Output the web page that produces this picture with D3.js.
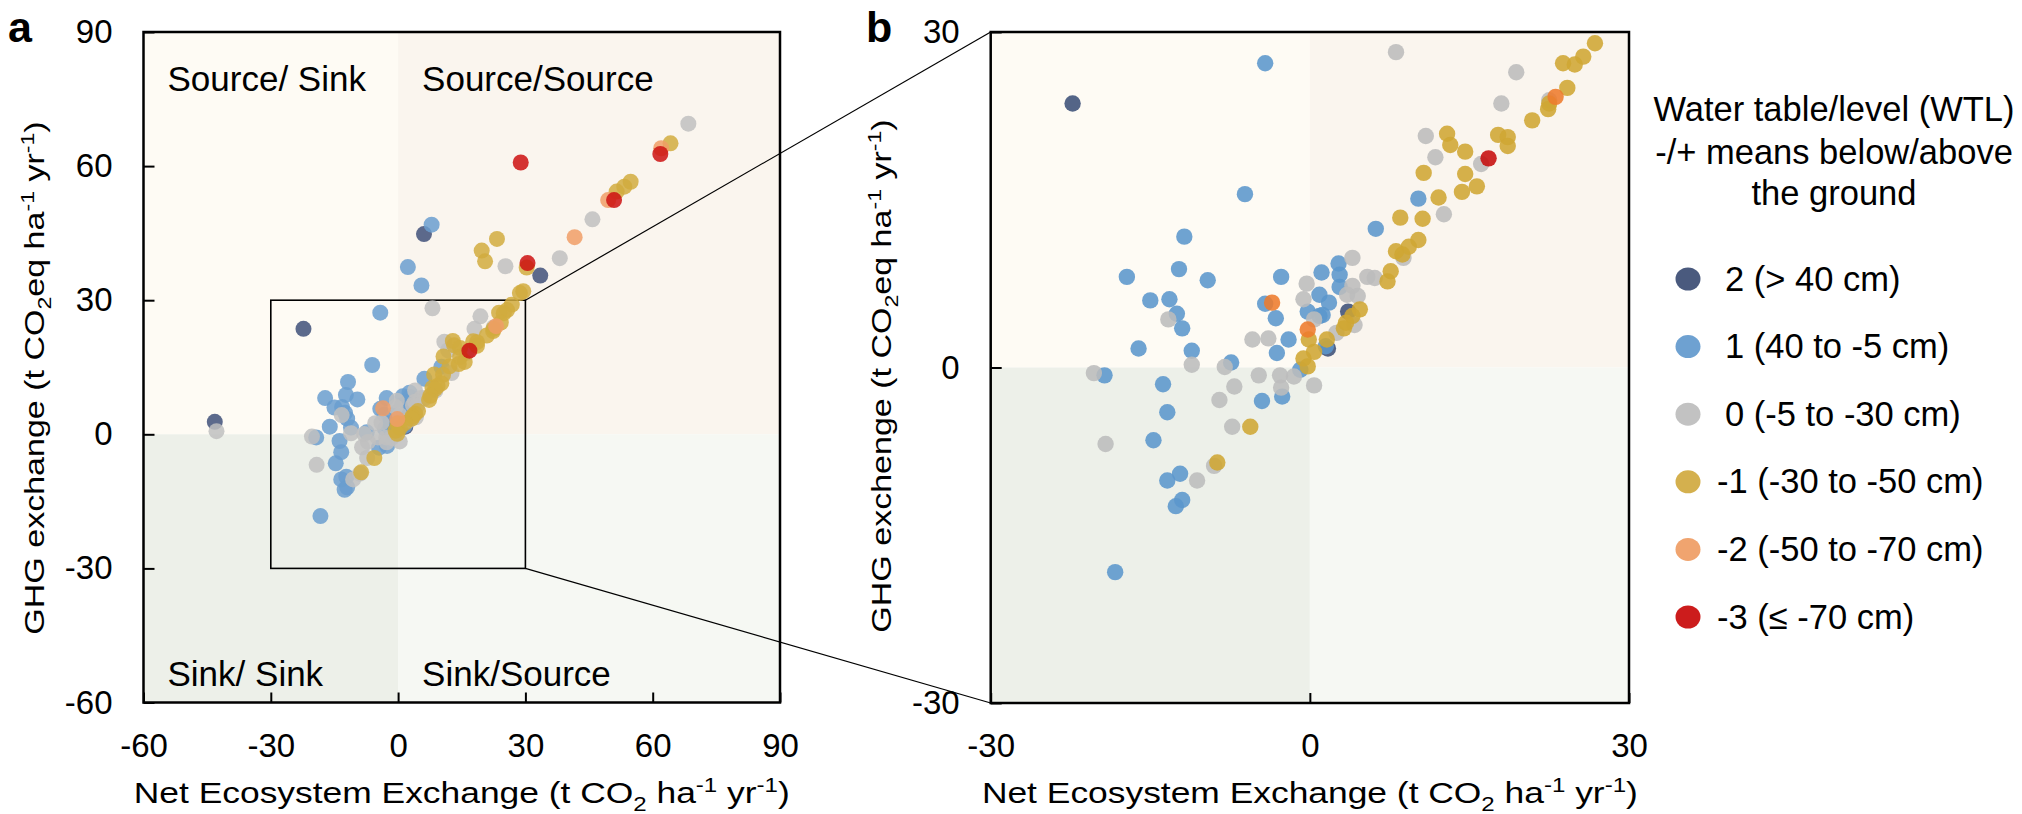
<!DOCTYPE html>
<html><head><meta charset="utf-8">
<script src="https://cdn.jsdelivr.net/npm/d3@7"></script>
<style>
body{margin:0;background:#fff;}
svg{display:block;}
text{font-family:"Liberation Sans",Arial,Helvetica,sans-serif;fill:#000;}
</style>
</head><body>
<svg id="chart" width="2022" height="814"></svg>
<script>
// ---------- data ----------
const classes = ["2", "1", "0", "-1", "-2", "-3"];
const legendLabels = ["2 (> 40 cm)", "1 (40 to -5 cm)", "0 (-5 to -30 cm)", "-1 (-30 to -50 cm)", "-2 (-50 to -70 cm)", "-3 (\u2264 -70 cm)"];
const legendTitle = ["Water table/level (WTL)", "-/+ means below/above", "the ground"];
const quadrantLabels = ["Source/ Sink", "Source/Source", "Sink/ Sink", "Sink/Source"];
const ticksA = [-60, -30, 0, 30, 60, 90];
const ticksB = [-30, 0, 30];

// [NEE, GHG] pairs per water-table class
const wtl2 = [[-22.3,23.6],[3.6,5.0],[1.7,1.7],[6.1,44.8],[33.5,35.5],[-43.2,2.8]];
const wtl1 = [[-4.2,27.2],[10.2,15.1],[6.2,12.4],[2.7,9.3],[1.1,8.5],[2.8,8.3],[-2.7,8.1],[2.8,7.2],
  [0.9,6.5],[1.8,5.8],[-4.2,5.7],[-0.2,5.0],[0.9,4.6],[1.2,4.7],[-3.2,4.4],[-2.0,2.5],[1.5,1.9],
  [-3.1,1.3],[-0.9,-0.2],[-7.4,0.45],[-4.5,-3.0],[-2.6,-2.6],[-11.1,1.5],[-16.1,1.7],[-12.0,3.5],
  [-12.5,4.8],[-13.2,6.1],[-15.0,6.0],[-17.2,8.1],[-12.3,8.8],[-9.6,7.8],[-11.8,11.7],[-6.1,15.5],
  [-19.3,-0.7],[-13.8,-1.5],[-13.4,-4.0],[-14.7,-6.5],[-12.2,-9.5],[-13.4,-10.1],[-12.0,-11.85],
  [-12.6,-12.4],[-18.3,-18.3],[7.9,46.9],[2.3,37.4],[5.5,33.3]];
const wtl0 = [[8.1,28.2],[19.4,26.4],[18.0,23.6],[22.5,23.9],[16.1,18.2],[10.9,20.7],[11.8,18.8],[12.6,13.7],
  [8.8,9.8],[4.0,9.8],[5.4,8.1],[6.1,8.0],[-0.3,7.5],[4.0,7.3],[3.5,6.5],[4.5,6.4],[-0.6,6.1],
  [0.4,4.3],[4.2,3.8],[2.5,3.1],[-5.4,2.5],[-3.9,2.6],[-1.5,-0.8],[0.4,-1.6],[-2.8,-0.7],[-4.8,-0.7],
  [-7.1,-1.7],[-2.7,-1.8],[-8.0,0.05],[-8.5,-2.9],[-11.1,0.24],[-13.3,4.3],[-20.3,-0.5],[-7.3,-5.3],
  [-19.2,-6.84],[-9.0,-8.8],[-10.6,-10.1],[68.4,69.5],[45.8,48.1],[38.1,39.4],[25.3,37.6],[-42.8,0.7]];
const wtlm1 = [[26.8,29.0],[25.7,27.8],[24.9,27.1],[23.8,27.2],[24.2,25.0],[22.5,23.6],[22.4,23.1],[20.9,22.1],
  [17.7,20.8],[18.6,20.6],[18.6,19.8],[12.9,20.9],[13.2,19.9],[14.6,19.3],[10.7,17.4],[14.6,17.3],
  [15.7,16.2],[14.3,15.7],[12.1,15.2],[8.5,13.4],[10.6,13.3],[10.2,11.4],[9.3,10.8],[8.1,10.4],
  [8.7,10.1],[7.6,8.6],[7.3,7.7],[4.7,5.2],[4.0,4.6],[3.4,4.0],[3.2,3.5],[1.6,2.5],[-0.1,2.5],
  [0.4,1.4],[-0.6,0.8],[-0.2,0.1],[-5.6,-5.3],[-8.7,-8.5],[64.2,65.1],[54.8,56.5],[53.3,55.4],
  [51.5,54.3],[23.3,43.7],[19.7,41.1],[20.5,38.7],[30.3,37.3],[29.5,32.0],[28.7,31.6]];
const wtlm2 = [[23.1,24.2],[-3.55,5.8],[-0.2,3.4],[62.0,64.0],[49.5,52.4],[41.6,44.1]];
const wtlm3 = [[16.8,18.7],[61.8,62.7],[28.9,60.8],[50.9,52.4],[30.5,38.3]];

const series = [wtl2, wtl1, wtl0, wtlm1, wtlm2, wtlm3];

// ---------- styles ----------
const FONT = '"Liberation Sans",Arial,Helvetica,sans-serif';
const colA = ["#3f5079", "#6a9dcf", "#bfbfbf", "#d1ab3e", "#f09e66", "#cc1111"];
const colB = ["#3c5078", "#5b96cc", "#bcbcbc", "#cfa633", "#ee7b2c", "#c60c0c"];
const colL = ["#4a5a7e", "#6ea1d1", "#c2c2c2", "#d4b04e", "#f0a46f", "#cc1c1c"];
const quadFill = {tl: "#fefbf4", tr: "#faf5ee", bl: "#edf0e9", br: "#f6f8f3"};

const svg = d3.select("#chart");
svg.append("rect").attr("width", 2022).attr("height", 814).attr("fill", "#fff");

const points = [];
series.forEach((s, i) => s.forEach(p => points.push({x: p[0], y: p[1], c: i})));

function drawPanel(opt) {
  const x = d3.scaleLinear().domain(opt.domain).range([opt.x0, opt.x1]);
  const y = d3.scaleLinear().domain(opt.domain).range([opt.y1, opt.y0]);
  const g = svg.append("g");
  const [d0, d1] = opt.domain;
  const quads = [
    {k: "tl", xa: d0, xb: 0, ya: 0, yb: d1},
    {k: "tr", xa: 0, xb: d1, ya: 0, yb: d1},
    {k: "bl", xa: d0, xb: 0, ya: d0, yb: 0},
    {k: "br", xa: 0, xb: d1, ya: d0, yb: 0}];
  g.selectAll("rect.q").data(quads).join("rect")
    .attr("x", d => x(d.xa)).attr("y", d => y(d.yb))
    .attr("width", d => x(d.xb) - x(d.xa)).attr("height", d => y(d.ya) - y(d.yb))
    .attr("fill", d => quadFill[d.k]);
  return {x, y, g};
}

// ---------- panel a ----------
const A = drawPanel({domain: [-60, 90], x0: 143.5, x1: 780, y0: 32, y1: 702.5});
const qPos = [[-60, 1], [0, 1], [-60, 0], [0, 0]];
A.g.selectAll("text.ql").data(quadrantLabels).join("text")
  .attr("x", (d, i) => A.x(qPos[i][0]) + 24)
  .attr("y", (d, i) => qPos[i][1] ? 91 : 686)
  .attr("font-size", 35).text(d => d);
A.g.append("rect").attr("x", A.x(-30)).attr("y", A.y(30))
  .attr("width", A.x(30) - A.x(-30)).attr("height", A.y(-30) - A.y(30))
  .attr("fill", "none").attr("stroke", "#000").attr("stroke-width", 1.6);
A.g.selectAll("circle").data(points).join("circle")
  .attr("cx", d => A.x(d.x)).attr("cy", d => A.y(d.y)).attr("r", 8)
  .attr("fill", d => colA[d.c]).attr("fill-opacity", 0.85);

// ---------- panel b ----------
const B = drawPanel({domain: [-30, 30], x0: 990.7, x1: 1629, y0: 32, y1: 703});
B.g.selectAll("circle").data(points.filter(d => d.x >= -30 && d.x <= 30 && d.y >= -30 && d.y <= 30)).join("circle")
  .attr("cx", d => B.x(d.x)).attr("cy", d => B.y(d.y)).attr("r", 8.2)
  .attr("fill", d => colB[d.c]).attr("fill-opacity", 0.88);

// connector lines
svg.append("line").attr("x1", A.x(30)).attr("y1", A.y(30)).attr("x2", B.x(-30)).attr("y2", B.y(30))
  .attr("stroke", "#000").attr("stroke-width", 1.2);
svg.append("line").attr("x1", A.x(30)).attr("y1", A.y(-30)).attr("x2", B.x(-30)).attr("y2", B.y(-30))
  .attr("stroke", "#000").attr("stroke-width", 1.2);

// borders + axes
function axes(P, ticks) {
  const [r0, r1] = P.x.range();
  const [b, t] = P.y.range();
  svg.append("rect").attr("x", r0).attr("y", t).attr("width", r1 - r0).attr("height", b - t)
    .attr("fill", "none").attr("stroke", "#000").attr("stroke-width", 2.5);
  const fmt = d => String(d);
  const gx = svg.append("g").attr("transform", `translate(0,${b})`)
    .call(d3.axisBottom(P.x).tickValues(ticks).tickSize(-10).tickPadding(31).tickFormat(fmt));
  const gy = svg.append("g").attr("transform", `translate(${r0},0)`)
    .call(d3.axisLeft(P.y).tickValues(ticks).tickSize(-11).tickPadding(31).tickFormat(fmt));
  [gx, gy].forEach(g => {
    g.select(".domain").remove();
    g.selectAll(".tick line").attr("stroke", "#000").attr("stroke-width", 2);
    g.selectAll(".tick text").attr("font-size", 33).attr("font-family", FONT).attr("fill", "#000");
  });
}
axes(A, ticksA);
axes(B, ticksB);

// axis titles with sub/superscripts
function richText(sel, parts, size) {
  parts.forEach(p => {
    const t = sel.append("tspan").text(p.t);
    let dy = 0;
    if (p.s === "sub") { t.attr("font-size", size * 0.68); dy = size * 0.25; }
    else if (p.s === "sup") { t.attr("font-size", size * 0.68); dy = -size * 0.38; }
    else t.attr("font-size", size);
    if (p.r) dy += p.r * size;
    if (dy) t.attr("dy", dy);
  });
}
const XT = 30, YT = 27;
function xTitle(P) {
  const cx = (P.x.range()[0] + P.x.range()[1]) / 2;
  const t = svg.append("text").attr("transform", `translate(${cx},803) scale(1.18,1)`)
    .attr("text-anchor", "middle").attr("font-size", XT);
  richText(t, [{t: "Net Ecosystem Exchange (t CO"}, {t: "2", s: "sub"}, {t: " ha", r: -0.25},
    {t: "-1", s: "sup"}, {t: " yr", r: 0.38}, {t: "-1", s: "sup"}, {t: ")", r: 0.38}], XT);
}
function yTitle(cx, cy, word) {
  const t = svg.append("text").attr("transform", `translate(${cx},${cy}) rotate(-90) scale(1.26,1)`)
    .attr("text-anchor", "middle").attr("font-size", YT);
  richText(t, [{t: `GHG ${word} (t CO`}, {t: "2", s: "sub"}, {t: "eq ha", r: -0.25},
    {t: "-1", s: "sup"}, {t: " yr", r: 0.38}, {t: "-1", s: "sup"}, {t: ")", r: 0.38}], YT);
}
xTitle(A); xTitle(B);
yTitle(44, 378, "exchange");
yTitle(891, 376, "exchenge");

// panel letters
svg.append("text").attr("x", 8).attr("y", 42).attr("font-size", 43).attr("font-weight", "bold").text("a");
svg.append("text").attr("x", 866).attr("y", 42).attr("font-size", 43).attr("font-weight", "bold").text("b");

// ---------- legend ----------
const lg = svg.append("g");
lg.selectAll("text.t").data(legendTitle).join("text")
  .attr("x", 1834).attr("y", (d, i) => [121, 164, 205][i])
  .attr("text-anchor", "middle").attr("font-size", 34.5).text(d => d);
const ly = d3.scalePoint().domain(classes).range([279, 617]);
lg.selectAll("ellipse").data(classes).join("ellipse")
  .attr("cx", 1688).attr("cy", d => ly(d)).attr("rx", 12.5).attr("ry", 11.5)
  .attr("fill", (d, i) => colL[i]);
lg.selectAll("text.l").data(legendLabels).join("text")
  .attr("x", d => d.startsWith("-") ? 1717 : 1725)
  .attr("y", (d, i) => ly(classes[i]) + 11.5)
  .attr("font-size", 34.5).text(d => d);
</script>
</body></html>
